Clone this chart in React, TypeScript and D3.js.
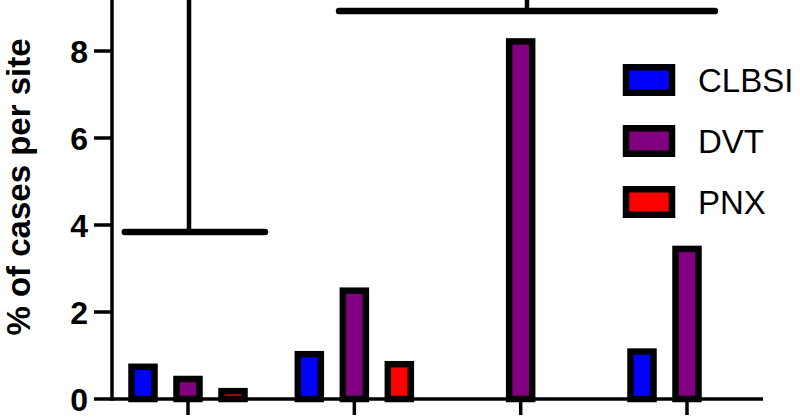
import React from "react";
import * as d3 from "d3";

const categories = ["Site 1", "Site 2", "Site 3", "Site 4"];
const seriesNames = ["CLBSI", "DVT", "PNX"];
const seriesColors = ["#0000ff", "#800080", "#ff0000"];
const clbsi = [0.74, 1.03, 0, 1.09];
const dvt = [0.46, 2.49, 8.22, 3.45];
const pnx = [0.18, 0.8, 0, 0];
const yTicks = [0, 2, 4, 6, 8];

// bracket-style error bars (positions in category-index units)
const bracketValue = [3.84, 8.92];
const bracketStem = [0.006, 2.038];
const bracketLeft = [-0.38, 0.908];
const bracketRight = [0.463, 3.168];
const bracketTop = [12, 12];

const W = 800;
const H = 419;
const FONT = "'Liberation Sans', Arial, Helvetica, sans-serif";

export default function App() {
  const y = d3.scaleLinear().domain([0, 399 / 43.5]).range([399, 0]);
  const xi = d3.scaleLinear().domain([0, categories.length - 1]).range([188, 687]);
  const off = d3.scalePoint<string>().domain(seriesNames).range([-45, 45]);
  const values = [clbsi, dvt, pnx];
  const barW = 23;
  const axisX = 112;
  const axisEnd = 763;

  return (
    <svg
      width={W}
      height={H}
      style={{ position: "absolute", left: 0, top: 0, background: "#fff" }}
    >
      <rect x={0} y={0} width={W} height={H} fill="#fff" />
      {/* bars */}
      {seriesNames.map((s, si) =>
        categories.map((c, ci) => {
          const v = values[si][ci];
          if (!v) return null;
          const cx = xi(ci) + (off(s) as number);
          return (
            <rect
              key={s + c}
              x={cx - barW / 2}
              y={y(v)}
              width={barW}
              height={y(0) - y(v)}
              fill={seriesColors[si]}
              stroke="#000"
              strokeWidth={6.5}
            />
          );
        })
      )}
      {/* brackets */}
      {bracketValue.map((v, i) => (
        <g key={"b" + i}>
          <line
            x1={xi(bracketStem[i])}
            x2={xi(bracketStem[i])}
            y1={y(v)}
            y2={y(bracketTop[i])}
            stroke="#000"
            strokeWidth={4.5}
          />
          <line
            x1={xi(bracketLeft[i])}
            x2={xi(bracketRight[i])}
            y1={y(v)}
            y2={y(v)}
            stroke="#000"
            strokeWidth={6.5}
            strokeLinecap="round"
          />
        </g>
      ))}
      {/* y axis */}
      <line x1={axisX} x2={axisX} y1={0} y2={y(0) + 1.75} stroke="#000" strokeWidth={3.5} />
      {yTicks.map((t) => (
        <g key={"yt" + t}>
          <line x1={94} x2={axisX} y1={y(t)} y2={y(t)} stroke="#000" strokeWidth={3.5} />
          <text
            x={88}
            y={y(t)}
            dy="0.36em"
            textAnchor="end"
            fontFamily={FONT}
            fontWeight="bold"
            fontSize={32}
            fill="#000"
          >
            {t}
          </text>
        </g>
      ))}
      {/* x axis */}
      <line x1={axisX} x2={axisEnd} y1={y(0)} y2={y(0)} stroke="#000" strokeWidth={3.5} />
      {categories.map((c, ci) => (
        <line
          key={"xt" + c}
          x1={xi(ci)}
          x2={xi(ci)}
          y1={y(0)}
          y2={y(0) + 16}
          stroke="#000"
          strokeWidth={3.5}
        />
      ))}
      {/* y label */}
      <text
        transform="translate(30,187) rotate(-90)"
        textAnchor="middle"
        fontFamily={FONT}
        fontWeight="bold"
        fontSize={33}
        fill="#000"
      >
        % of cases per site
      </text>
      {/* legend */}
      {seriesNames.map((s, si) => (
        <g key={"lg" + s} transform={`translate(0, ${80 + si * 61})`}>
          <rect
            x={626}
            y={-12.75}
            width={46}
            height={25.5}
            fill={seriesColors[si]}
            stroke="#000"
            strokeWidth={6.5}
          />
          <text
            x={698}
            y={0}
            dy="0.36em"
            fontFamily={FONT}
            fontSize={33}
            fill="#000"
          >
            {s}
          </text>
        </g>
      ))}
    </svg>
  );
}
